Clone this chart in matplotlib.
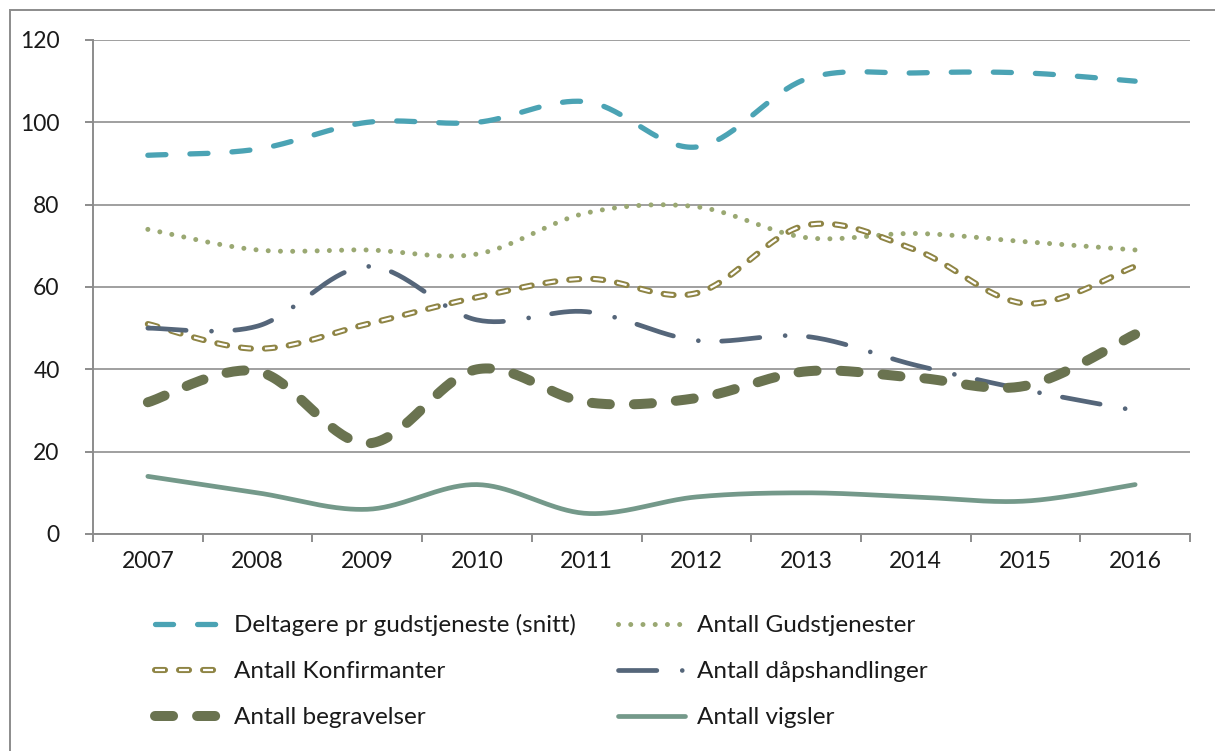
import numpy as np
import matplotlib
matplotlib.use('Agg')
import matplotlib.pyplot as plt
from matplotlib.lines import Line2D
from matplotlib.patches import Rectangle
from matplotlib.legend_handler import HandlerTuple

plt.rcParams['font.family'] = ['Lato', 'DejaVu Sans']
plt.rcParams['lines.scale_dashes'] = False

years = ['2007', '2008', '2009', '2010', '2011', '2012', '2013', '2014', '2015', '2016']

deltagere = [92, 93.5, 100, 100, 105, 94, 110.5, 112, 112, 110]
gudstjenester = [74, 69, 69, 68, 78, 79.5, 72, 73, 71, 69]
konfirmanter = [51, 45, 51, 57.5, 62, 58.5, 75, 69, 56, 65]
daap = [50, 50.5, 65, 52, 54, 47, 48, 41, 35, 30]
begravelser = [32, 39.5, 22, 40, 32, 33, 39.5, 38, 36, 48.5]
vigsler = [14, 10, 6, 12, 5, 9, 10, 9, 8, 12]


def smooth(y, n=40):
    # Excel-like smoothed line (Catmull-Rom as cubic Bezier)
    y = np.asarray(y, float)
    x = np.arange(len(y), dtype=float)
    px = np.concatenate([[x[0]], x, [x[-1]]])
    py = np.concatenate([[y[0]], y, [y[-1]]])
    xs, ys = [], []
    t = np.linspace(0, 1, n)
    for i in range(1, len(px) - 2):
        p0 = np.array([px[i], py[i]])
        p3 = np.array([px[i + 1], py[i + 1]])
        p1 = p0 + (p3 - np.array([px[i - 1], py[i - 1]])) / 6
        p2 = p3 - (np.array([px[i + 2], py[i + 2]]) - p0) / 6
        pts = ((1 - t) ** 3)[:, None] * p0 + (3 * (1 - t) ** 2 * t)[:, None] * p1 \
            + (3 * (1 - t) * t ** 2)[:, None] * p2 + (t ** 3)[:, None] * p3
        xs.extend(pts[:, 0] if i == 1 else pts[1:, 0])
        ys.extend(pts[:, 1] if i == 1 else pts[1:, 1])
    return np.array(xs), np.array(ys)


fig = plt.figure(figsize=(12.15, 7.51), dpi=100)
ax = fig.add_axes([93 / 1215, 1 - 534 / 751, (1190 - 93) / 1215, (534 - 40) / 751])

# outer chart border
fig.patches.append(Rectangle((10 / 1215, -0.1), 1.2, 1 - 10 / 751 + 0.1, transform=fig.transFigure,
                             fill=False, edgecolor='#8c8c8c', linewidth=1.4))

c_delt = '#4BA3B4'
c_guds = '#9AA872'
c_konf = '#8E8444'
c_daap = '#55667A'
c_begr = '#6A7350'
c_vigs = '#74998A'

st_delt = dict(color=c_delt, lw=3.8, dashes=(13, 17.3), dash_capstyle='round')
st_guds = dict(color=c_guds, lw=3.6, dashes=(0.01, 8.8), dash_capstyle='round')
st_konf_o = dict(color=c_konf, lw=4.4, dashes=(7.2, 10.1), dash_capstyle='round')
st_konf_i = dict(color='white', lw=1.6, dashes=(7.2, 10.1), dash_capstyle='butt')
st_daap = dict(color=c_daap, lw=3.4, dashes=(27.6, 18.3, 0.01, 16.8), dash_capstyle='round')
st_begr = dict(color=c_begr, lw=7.2, dashes=(13, 17.3), dash_capstyle='round')
st_vigs = dict(color=c_vigs, lw=3.4, solid_capstyle='round')

ax.plot(*smooth(deltagere), **st_delt, zorder=3)
ax.plot(*smooth(gudstjenester), **st_guds, zorder=3)
ax.plot(*smooth(konfirmanter), **st_konf_o, zorder=3)
ax.plot(*smooth(konfirmanter), **st_konf_i, zorder=3)
ax.plot(*smooth(daap), **st_daap, zorder=3)
ax.plot(*smooth(begravelser), **st_begr, zorder=3)
ax.plot(*smooth(vigsler), **st_vigs, zorder=3)

ax.set_xlim(-0.5, len(years) - 0.5)
ax.set_ylim(0, 120)
ax.set_yticks(range(0, 121, 20))
ax.set_xticks(range(len(years)))
ax.set_xticklabels(years)
ax.set_xticks(np.arange(-0.5, len(years), 1), minor=True)
ax.tick_params(axis='x', which='major', length=0, pad=12, labelsize=16.5, labelcolor='#1a1a1a')
ax.tick_params(axis='x', which='minor', length=6, width=1.4, color='#8c8c8c', direction='out')
ax.tick_params(axis='y', length=6, width=1.4, color='#8c8c8c', pad=18, labelsize=16.5, labelcolor='#1a1a1a')
ax.grid(axis='y', color='#9f9f9f', lw=1.4)
ax.set_axisbelow(True)
for s in ['top', 'right']:
    ax.spines[s].set_visible(False)
for s in ['left', 'bottom']:
    ax.spines[s].set_color('#8c8c8c')
    ax.spines[s].set_linewidth(1.4)

h_delt = Line2D([], [], **st_delt)
h_guds = Line2D([], [], **st_guds)
h_konf = (Line2D([], [], **st_konf_o), Line2D([], [], **st_konf_i))
h_daap = Line2D([], [], **st_daap)
h_begr = Line2D([], [], **st_begr)
h_vigs = Line2D([], [], **st_vigs)

handles = [h_delt, h_konf, h_begr, h_guds, h_daap, h_vigs]
labels = ['Deltagere pr gudstjeneste (snitt)', 'Antall Konfirmanter', 'Antall begravelser',
          'Antall Gudstjenester', 'Antall dåpshandlinger', 'Antall vigsler']
leg = fig.legend(handles, labels, loc='upper left', bbox_to_anchor=(155 / 1215, 1 - 614 / 751),
                 ncol=2, frameon=False, fontsize=17.5, handlelength=2.75, handletextpad=0.5,
                 columnspacing=1.75, labelspacing=1.03, borderpad=0, borderaxespad=0,
                 handler_map={tuple: HandlerTuple(ndivide=1)})
for t in leg.get_texts():
    t.set_color('#1a1a1a')

fig.savefig('out.png', dpi=100)
